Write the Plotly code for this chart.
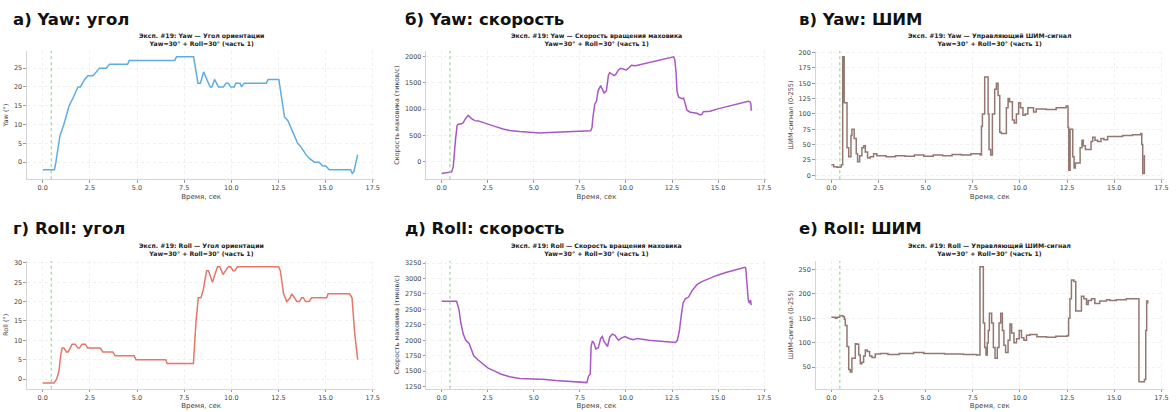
import plotly.graph_objects as go

# ---- time series, read as breakpoints (t in seconds) ----
yaw_angle_t = [0.0, 0.62, 0.7, 0.91, 1.12, 1.4, 1.6, 1.87, 2.0, 2.22, 2.4, 2.66, 2.84, 3.01, 3.36, 3.54,
               4.5, 4.59, 7.0, 7.09, 8.0, 8.13, 8.23, 8.36, 8.53, 8.7, 8.88, 8.97, 9.11, 9.32, 9.58, 9.72,
               9.84, 9.97, 10.16, 10.23, 10.46, 10.54, 10.68, 11.86, 11.95, 12.52, 12.65, 12.82, 13.0,
               13.26, 13.52, 13.7, 13.96, 14.14, 14.4, 14.66, 14.84, 15.02, 15.19, 16.33, 16.41, 16.5, 16.7]
yaw_angle = [-2, -2, 0, 7, 10, 15, 17, 20, 20, 22, 23, 23, 24, 25, 25, 26,
             26, 27, 27, 28, 28, 24, 21, 21, 24, 22, 20, 20, 22, 20, 20, 21,
             21, 20, 20, 21, 21, 20, 21, 21, 22, 22, 18, 12, 11,
             8, 5, 4, 2, 1, 0, 0, -1, -1, -2, -2, -3, -2.5, 2]

roll_angle_t = [0.0, 0.6, 0.74, 0.86, 0.95, 1.03, 1.12, 1.26, 1.35, 1.44, 1.56, 1.73, 1.86, 1.95, 2.08,
                2.26, 2.38, 3.05, 3.19, 3.71, 3.84, 4.85, 4.94, 6.52, 6.6, 7.99, 8.13, 8.25, 8.39, 8.51,
                8.69, 8.79, 8.86, 9.0, 9.13, 9.27, 9.39, 9.56, 9.7, 9.84, 9.96, 10.1, 10.19, 10.32, 12.51,
                12.6, 12.77, 12.94, 13.12, 13.2, 13.35, 13.47, 13.61, 13.73, 13.82, 13.94, 14.12, 14.26,
                15.05, 15.13, 16.27, 16.4, 16.54, 16.7]
roll_angle = [-1, -1, 0, 2, 6, 8, 8, 7, 7, 8, 9, 9, 8, 8, 9,
              9, 8, 8, 7, 7, 6, 6, 5, 5, 4, 4, 15, 21, 21, 23,
              28, 28, 27, 25, 27, 29, 29, 27, 28, 29, 29, 28, 28, 29, 29,
              28, 22, 20, 21, 22, 21, 20, 20, 21, 21, 20, 20, 21,
              21, 22, 22, 21, 12, 5]

yaw_speed_t = [0.0, 0.27, 0.54, 0.63, 0.72, 0.76, 0.84, 0.9, 1.08, 1.17, 1.26, 1.38, 1.44, 1.62, 1.8, 1.98,
               2.25, 2.61, 2.97, 3.33, 3.69, 4.23, 4.77, 5.3, 5.85, 6.38, 6.92, 7.46, 8.09, 8.16, 8.2,
               8.31, 8.4, 8.49, 8.58, 8.63, 8.72, 8.81, 8.94, 9.05, 9.12, 9.23, 9.35, 9.44, 9.59, 9.71,
               9.89, 10.02, 10.16, 10.3, 10.52, 10.88, 11.42, 11.96, 12.32, 12.59, 12.65, 12.72, 12.77,
               12.86, 13.04, 13.13, 13.22, 13.31, 13.49, 13.85, 14.03, 14.12, 14.2, 14.57, 14.93, 15.38,
               15.92, 16.37, 16.64, 16.73, 16.78, 16.8]
yaw_speed = [-230, -220, -200, -100, 400, 450, 690, 710, 720, 740, 800, 870, 880, 820, 780, 775,
             740, 700, 660, 620, 590, 570, 555, 545, 555, 565, 575, 580, 585, 650, 820,
             1100, 1150, 1350, 1430, 1450, 1380, 1310, 1350, 1650, 1700, 1670, 1640, 1660, 1750, 1780,
             1760, 1750, 1790, 1840, 1830, 1860, 1900, 1950, 1980, 2000, 1950, 1700, 1350,
             1230, 1200, 1210, 1100, 980, 940, 920, 890, 900, 950, 960, 1000, 1040,
             1080, 1120, 1150, 1140, 1100, 970]

roll_speed_t = [0.0, 0.45, 0.63, 0.81, 0.94, 1.03, 1.17, 1.31, 1.49, 1.62, 1.74, 1.98, 2.25, 2.52, 2.88,
                3.24, 3.69, 4.23, 4.95, 5.49, 6.2, 6.92, 7.64, 7.88, 7.97, 8.06, 8.11, 8.18, 8.27, 8.36,
                8.5, 8.63, 8.72, 8.81, 9.0, 9.12, 9.26, 9.4, 9.59, 9.77, 9.95, 10.16, 10.43, 10.61,
                11.24, 11.96, 12.68, 12.79, 12.9, 13.0, 13.1, 13.22, 13.4, 13.58, 13.85, 14.12, 14.48,
                14.93, 15.47, 16.01, 16.46, 16.5, 16.56, 16.64, 16.7, 16.76, 16.8]
roll_speed = [2630, 2630, 2640, 2630, 2500, 2300, 2100, 2000, 1950, 1850, 1750, 1680, 1620, 1550, 1500,
              1450, 1410, 1380, 1375, 1370, 1350, 1335, 1320, 1315, 1420, 1450, 1900, 1990, 1950, 1860,
              1880, 2030, 2060, 1980, 1900, 2050, 2100, 2080, 2000, 2040, 2060, 2030, 2010, 2030,
              2000, 1980, 1965, 2000, 2150, 2400, 2600, 2670, 2700, 2800, 2900, 2950, 3000,
              3050, 3100, 3150, 3180, 3170, 2950, 2650, 2600, 2650, 2570]

yaw_pwm_t = [0.0, 0.12, 0.3, 0.47, 0.53, 0.6, 0.68, 0.74, 0.83, 0.92, 1.0, 1.04, 1.09, 1.21, 1.32, 1.39,
             1.5, 1.62, 1.71, 1.8, 1.92, 2.06, 2.24, 2.41, 2.9, 3.4, 3.9, 4.4, 4.9, 5.4, 5.9, 6.4, 6.9,
             7.4, 7.9, 7.96, 8.01, 8.13, 8.31, 8.36, 8.45, 8.54, 8.66, 8.75, 8.84, 8.93, 9.01, 9.19,
             9.28, 9.37, 9.45, 9.6, 9.7, 9.81, 9.93, 10.03, 10.16, 10.28, 10.42, 10.6, 10.72, 10.86,
             11.39, 11.92, 12.45, 12.55, 12.59, 12.66, 12.8, 12.87, 12.94, 13.06, 13.19, 13.29, 13.36,
             13.47, 13.65, 13.77, 13.86, 13.98, 14.12, 14.3, 14.45, 14.65, 14.9, 15.44, 15.97, 16.41,
             16.46, 16.51, 16.6]
yaw_pwm = [17, 14, 13, 14, 17, 193, 118, 118, 45, 30, 30, 65, 75, 60, 35, 22,
           32, 45, 48, 38, 28, 30, 35, 32, 30, 32, 31, 33, 31, 33, 32, 34, 33,
           35, 33, 80, 100, 160, 100, 42, 33, 100, 140, 150, 130, 70, 68, 68,
           110, 125, 120, 90, 85, 100, 118, 110, 98, 100, 110, 110, 103, 108,
           107, 110, 113, 78, 8, 75, 30, 12, 20, 20, 45, 57, 48,
           42, 42, 55, 62, 57, 55, 60, 58, 63, 63, 65, 66, 68,
           50, 3, 33]

roll_pwm_t = [0.0, 0.21, 0.3, 0.44, 0.62, 0.69, 0.74, 0.83, 0.92, 1.0, 1.09, 1.18, 1.27, 1.36, 1.45, 1.53,
              1.62, 1.71, 1.8, 1.9, 2.03, 2.15, 2.33, 2.6, 3.0, 3.6, 4.36, 4.9, 6.0, 7.0, 7.71, 7.88,
              8.02, 8.06, 8.13, 8.2, 8.27, 8.32, 8.38, 8.5, 8.59, 8.68, 8.8, 8.89, 8.98, 9.07, 9.15,
              9.24, 9.37, 9.47, 9.56, 9.68, 9.82, 9.96, 10.08, 10.21, 10.35, 10.53, 10.9, 11.4, 11.9,
              12.5, 12.58, 12.65, 12.73, 12.86, 12.96, 13.14, 13.26, 13.39, 13.53, 13.62, 13.79, 13.97,
              14.23, 14.59, 14.77, 15.11, 15.64, 16.17, 16.31, 16.52, 16.6, 16.67, 16.72, 16.78]
roll_pwm = [152, 150, 152, 155, 153, 148, 135, 92, 45, 40, 68, 68, 98, 97, 75, 57,
            60, 73, 85, 82, 73, 70, 77, 78, 76, 78, 80, 78, 77, 76, 75, 255,
            255, 140, 90, 75, 100, 125, 160, 140, 90, 68, 90, 140, 160, 125, 95,
            80, 105, 138, 120, 100, 108, 125, 110, 105, 115, 117, 112, 111, 113,
            114, 150, 190, 228, 225, 165, 165, 195, 190, 178, 186, 190, 180,
            185, 188, 186, 188, 190, 190, 20, 20, 25, 125, 185, 180]

marker_t = 0.45  # start marker (dotted green line)

panel_labels = ["а) Yaw: угол", "б) Yaw: скорость", "в) Yaw: ШИМ",
                "г) Roll: угол", "д) Roll: скорость", "е) Roll: ШИМ"]
plot_titles = ["Эксп. #19: Yaw — Угол ориентации", "Эксп. #19: Yaw — Скорость вращения маховика",
               "Эксп. #19: Yaw — Управляющий ШИМ-сигнал", "Эксп. #19: Roll — Угол ориентации",
               "Эксп. #19: Roll — Скорость вращения маховика", "Эксп. #19: Roll — Управляющий ШИМ-сигнал"]
subtitle = "Yaw=30° + Roll=30° (часть 1)"
y_titles = ["Yaw (°)", "Скорость маховика (тиков/с)", "ШИМ-сигнал (0-255)",
            "Roll (°)", "Скорость маховика (тиков/с)", "ШИМ-сигнал (0-255)"]
x_title = "Время, сек"

W, H = 1176, 412
FONT = "DejaVu Sans"

series = [
    (yaw_angle_t, yaw_angle, "#5dade2", "linear", [-4.55, 29.55], 5),
    (yaw_speed_t, yaw_speed, "#a857c4", "linear", [-341, 2111], 500),
    (yaw_pwm_t, yaw_pwm, "#927870", "hv", [-6.5, 202.5], 25),
    (roll_angle_t, roll_angle, "#e5766a", "linear", [-2.5, 30.5], 5),
    (roll_speed_t, roll_speed, "#a857c4", "linear", [1216, 3284], 250),
    (roll_pwm_t, roll_pwm, "#927870", "hv", [6, 267], 50),
]

# plot-area boxes in pixels: (left, right) per column, (top, bottom) per row
cols = [(27, 377), (428, 770), (819, 1169)]
rows = [(49.5, 179), (261.5, 390.5)]
label_x = [11, 405, 800]
label_y = [18, 229]

fig = go.Figure()
layout = dict(
    width=W, height=H, margin=dict(l=0, r=0, t=0, b=0),
    paper_bgcolor="white", plot_bgcolor="white",
    showlegend=False, font=dict(family=FONT, color="#333"),
)
annotations = []
shapes = []

for i, (t, v, color, shape, yr, dy) in enumerate(series):
    r, c = divmod(i, 3)
    n = "" if i == 0 else str(i + 1)
    xa, ya = "x" + n, "y" + n
    x0, x1 = cols[c]
    top, bot = rows[r]
    fig.add_trace(go.Scatter(x=t, y=v, mode="lines", line=dict(color=color, width=1.5, shape=shape),
                             xaxis=xa, yaxis=ya, hoverinfo="skip"))
    axis_common = dict(showgrid=True, gridcolor="#f0f0f0", griddash="dot", gridwidth=0.8,
                       zeroline=False, showline=True, linecolor="#d4d4d4", linewidth=0.8,
                       ticks="outside", ticklen=2.5, tickcolor="#999", tickwidth=0.8,
                       tickfont=dict(size=6.5, color="#444", family=FONT))
    layout["xaxis" + n] = dict(axis_common, domain=[x0 / W, x1 / W], anchor=ya,
                               range=[-0.84, 17.64], tick0=0, dtick=2.5, tickformat=".1f",
                               title=dict(text=x_title, font=dict(size=7, color="#444"), standoff=2))
    layout["yaxis" + n] = dict(axis_common, domain=[1 - bot / H, 1 - top / H], anchor=xa,
                               range=yr, tick0=0, dtick=dy,
                               title=dict(text=y_titles[i], font=dict(size=6.5, color="#444"), standoff=4))
    shapes.append(dict(type="line", xref=xa, yref=ya + " domain", x0=marker_t, x1=marker_t, y0=0, y1=1,
                       line=dict(color="#7cc47c", width=0.9, dash="dot")))
    annotations.append(dict(text="<b>" + panel_labels[i] + "</b>", xref="paper", yref="paper",
                            x=label_x[c] / W, y=1 - label_y[r] / H, xanchor="left", yanchor="middle",
                            showarrow=False, font=dict(size=16.5, color="#111", family=FONT)))
    annotations.append(dict(text="<b>" + plot_titles[i] + "<br>" + subtitle + "</b>", xref="paper",
                            yref="paper", x=(x0 + x1) / 2 / W, y=1 - (top - 2) / H, xanchor="center",
                            yanchor="bottom", showarrow=False, align="center",
                            font=dict(size=6.2, color="#222", family=FONT)))

layout["annotations"] = annotations
layout["shapes"] = shapes
fig.update_layout(**layout)
fig.write_html("out.html")
